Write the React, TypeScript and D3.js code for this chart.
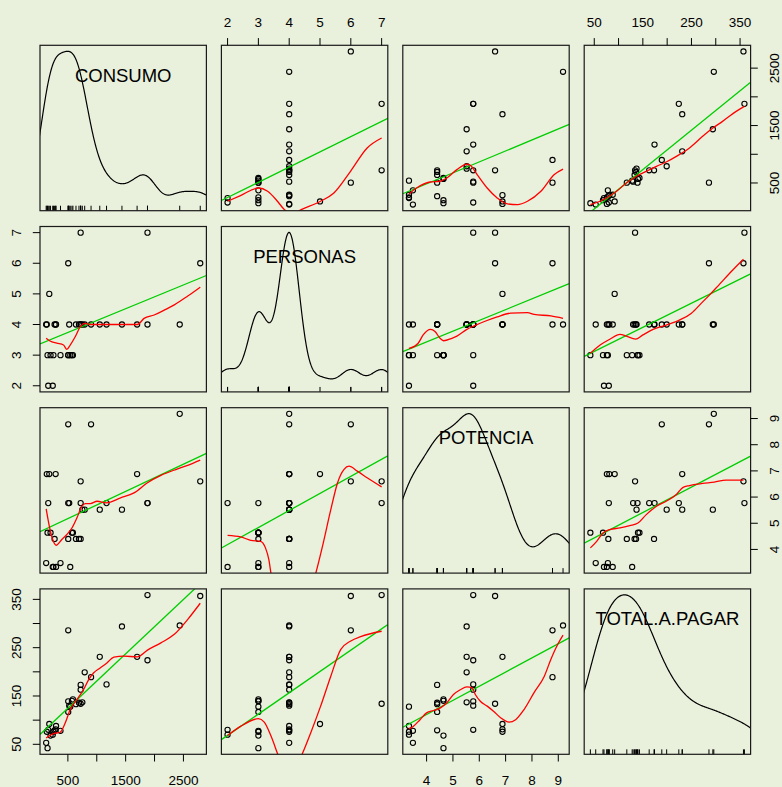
import React from "react";
import * as d3 from "d3";

// variable names shown on the diagonal
const varNames = ["CONSUMO", "PERSONAS", "POTENCIA", "TOTAL.A.PAGAR"];

// one entry per household
const consumo = [124, 135, 148, 160, 178, 200, 238, 250, 270, 288, 295, 372, 506, 541, 523, 506, 570, 587, 640, 692, 721, 721, 721, 750, 791, 901, 1052, 1169, 1436, 1698, 1878, 1878, 2436, 2791, 506];
const personas = [4, 4, 3, 2, 5, 3, 2, 3, 4, 4, 4, 3, 3, 3, 4, 3, 3, 3, 4, 4, 7, 4, 4, 4, 4, 4, 4, 4, 4, 4, 7, 4, 4, 6, 6];
const potencia = [3.48, 6.88, 4.64, 5.77, 6.88, 4.64, 3.33, 3.33, 4.4, 6.88, 3.33, 3.48, 4.4, 3.33, 5.77, 5.77, 4.64, 4.64, 4.4, 4.4, 6.6, 5.77, 4.4, 5.52, 5.52, 8.78, 5.52, 5.77, 5.52, 6.88, 5.77, 5.77, 9.18, 6.6, 8.78];
const totalAPagar = [53, 76, 42, 80, 92, 68, 70, 76, 79, 81, 88, 78, 117, 128, 130, 139, 140, 143, 133, 136, 134, 163, 173, 137, 199, 189, 231, 174, 294, 231, 359, 224, 296, 357, 286];

// axis ticks and the labels R kept
const consumoTicks = [500, 1000, 1500, 2000, 2500];
const consumoTickLabels = [500, 1500, 2500];
const personasTicks = [2, 3, 4, 5, 6, 7];
const potenciaTicks = [4, 5, 6, 7, 8, 9];
const totalTicks = [50, 100, 150, 200, 250, 300, 350];
const totalTickLabels = [50, 150, 250, 350];

// red smoother of each panel, [x, y]
const consumoByPersonasSmooth = [[2, 182], [2.42, 281], [3, 413], [3.3, 356], [3.62, 182], [3.84, 37], [4.1, -40], [4.39, 37], [5.02, 182], [5.45, 326], [5.99, 703], [6.53, 1109], [7, 1283]];
const consumoByPotenciaSmooth = [[3.33, 309], [3.62, 413], [4.13, 517], [4.51, 530], [4.77, 587], [5.15, 733], [5.53, 830], [5.66, 808], [5.92, 646], [6.3, 413], [6.68, 239], [7.07, 135], [7.45, 124], [7.83, 182], [8.34, 356], [8.85, 646], [9.18, 740]];
const consumoByTotalSmooth = [[42, 124], [62, 182], [75, 239], [96, 356], [116, 500], [137, 617], [157, 703], [178, 790], [198, 865], [219, 964], [246, 1109], [273, 1312], [294, 1457], [314, 1573], [342, 1747], [359, 1834]];
const personasByConsumoSmooth = [[124, 3.55], [191, 3.46], [308, 3.39], [424, 3.33], [482, 3.19], [540, 3.33], [627, 3.6], [715, 3.93], [790, 4.04], [889, 4.0], [1063, 4.0], [1354, 4.0], [1703, 4.0], [1819, 4.2], [1993, 4.31], [2168, 4.47], [2342, 4.64], [2575, 4.93], [2791, 5.22]];
const personasByPotenciaSmooth = [[3.33, 3.22], [3.68, 3.39], [3.87, 3.66], [4.15, 3.84], [4.32, 3.77], [4.51, 3.55], [4.64, 3.47], [4.96, 3.55], [5.15, 3.62], [5.53, 3.84], [5.79, 3.95], [6.17, 4.09], [6.68, 4.25], [7.19, 4.37], [7.83, 4.39], [8.08, 4.33], [8.72, 4.28], [9.18, 4.2]];
const personasByTotalSmooth = [[42, 3.06], [62, 3.33], [82, 3.52], [103, 3.68], [116, 3.62], [135, 3.52], [150, 3.66], [171, 3.84], [198, 3.98], [226, 4.15], [250, 4.37], [270, 4.69], [287, 4.96], [308, 5.32], [335, 5.78], [357, 6.13]];
const potenciaByConsumoSmooth = [[124, 5.55], [191, 4.76], [249, 4.31], [296, 4.16], [395, 4.38], [482, 4.57], [570, 4.82], [657, 5.21], [744, 5.65], [802, 5.75], [889, 5.75], [1006, 5.84], [1168, 5.78], [1412, 5.97], [1644, 6.16], [1878, 6.55], [2110, 6.83], [2401, 7.08], [2662, 7.29], [2791, 7.41]];
const potenciaByPersonasSmooth = [[2, 4.54], [2.42, 4.48], [2.75, 4.35], [3.07, 4.31], [3.23, 4.06], [3.34, 3.61], [3.42, 3.0], [3.7, 1.8], [4.1, 1.2], [4.5, 1.8], [4.86, 3.08], [5.08, 4.12], [5.35, 5.52], [5.57, 6.55], [5.78, 7.06], [5.94, 7.18], [6.21, 6.99], [6.53, 6.74], [7, 6.39]];
const potenciaByTotalSmooth = [[42, 4.06], [55, 4.31], [68, 4.63], [82, 4.76], [103, 4.82], [123, 4.91], [140, 5.01], [157, 5.33], [178, 5.65], [198, 5.84], [219, 6.1], [232, 6.36], [246, 6.44], [273, 6.52], [297, 6.57], [321, 6.65], [357, 6.65]];
const totalByConsumoSmooth = [[124, 63], [249, 72], [366, 75], [453, 94], [540, 122], [657, 143], [773, 163.5], [860, 184], [947, 198], [1063, 208.5], [1180, 219], [1296, 230.5], [1470, 232.6], [1703, 231], [1878, 245], [2110, 260], [2342, 277.6], [2575, 308.7], [2791, 342]];
const totalByPersonasSmooth = [[2, 68], [2.42, 87], [3, 103], [3.19, 96], [3.41, 67], [3.62, 31], [3.8, 0], [4.0, -20], [4.2, 0], [4.43, 31], [4.7, 74], [5.02, 129], [5.35, 191], [5.67, 246], [6, 264], [6.32, 273], [7, 284]];
const totalByPotenciaSmooth = [[3.33, 82], [3.49, 87], [3.75, 101], [4.0, 115], [4.26, 120], [4.51, 125], [4.77, 136], [5.02, 153], [5.28, 163], [5.53, 169], [5.73, 167], [5.85, 153], [6.04, 139], [6.3, 129], [6.55, 118], [6.81, 105], [7.13, 96], [7.38, 101], [7.7, 122], [8.08, 157], [8.47, 191], [8.72, 226], [8.98, 257], [9.18, 276]];

const BG = "#e9f0dc";
const FONT = "'Liberation Sans', Arial, sans-serif";

// gaussian kde with R's bw.nrd0, cut = 3
function density(v: number[]) {
  const n = v.length;
  const s = [...v].sort((a, b) => a - b);
  const sd = d3.deviation(v) || 1;
  const iqr = (d3.quantile(s, 0.75)! - d3.quantile(s, 0.25)!) / 1.34;
  const lo = Math.min(sd, iqr) || sd;
  const bw = 0.9 * lo * Math.pow(n, -0.2);
  const from = s[0] - 3 * bw;
  const to = s[n - 1] + 3 * bw;
  return d3.range(512).map((k) => {
    const x = from + ((to - from) * k) / 511;
    let sum = 0;
    for (const xi of v) {
      const z = (x - xi) / bw;
      sum += Math.exp(-0.5 * z * z);
    }
    return [x, sum / (n * bw * Math.sqrt(2 * Math.PI))];
  });
}

export default function App() {
  const W = 782, H = 787;
  const left = 40, top = 45.3, stepX = 181.4, stepY = 181.2, pw = 166.4, ph = 165.4;
  const vars = [consumo, personas, potencia, totalAPagar];
  const ticks = [consumoTicks, personasTicks, potenciaTicks, totalTicks];
  const labels = [consumoTickLabels, personasTicks, potenciaTicks, totalTickLabels];
  const smooths: Record<string, number[][]> = {
    "0-1": consumoByPersonasSmooth, "0-2": consumoByPotenciaSmooth, "0-3": consumoByTotalSmooth,
    "1-0": personasByConsumoSmooth, "1-2": personasByPotenciaSmooth, "1-3": personasByTotalSmooth,
    "2-0": potenciaByConsumoSmooth, "2-1": potenciaByPersonasSmooth, "2-3": potenciaByTotalSmooth,
    "3-0": totalByConsumoSmooth, "3-1": totalByPersonasSmooth, "3-2": totalByPotenciaSmooth,
  };
  const domains = vars.map((v) => {
    const [a, b] = d3.extent(v) as [number, number];
    const r = b - a;
    return [a - 0.04 * r, b + 0.04 * r];
  });

  const panels: React.ReactNode[] = [];
  for (let i = 0; i < 4; i++) {
    for (let j = 0; j < 4; j++) {
      const x0 = left + j * stepX;
      const y0 = top + i * stepY;
      const xs = d3.scaleLinear().domain(domains[j]).range([x0, x0 + pw]);
      const ys = d3.scaleLinear().domain(domains[i]).range([y0 + ph, y0]);
      const clipId = `clip-${i}-${j}`;
      const line = d3.line<number[]>().x((d) => xs(d[0])).y((d) => ys(d[1]));
      const content: React.ReactNode[] = [];

      if (i === j) {
        const v = vars[i];
        const dens = density(v);
        const [mn, mx] = d3.extent(v) as [number, number];
        const [dmin, dmax] = d3.extent(dens, (d) => d[1]) as [number, number];
        const scaled = dens.map((d) => [d[0], mn + (d[1] * (mx - mn)) / (dmax - dmin)]);
        content.push(<path key="dens" d={line(scaled) || ""} fill="none" stroke="#000" strokeWidth={1.2} clipPath={`url(#${clipId})`} />);
        v.forEach((val, k) => (
          content.push(<line key={`r${k}`} x1={xs(val)} x2={xs(val)} y1={y0 + ph} y2={y0 + ph - 0.03 * ph} stroke="#000" strokeWidth={1} />)
        ));
        content.push(
          <text key="title" x={x0 + pw / 2} y={y0 + 36.5} textAnchor="middle" fontSize={18.5} fontFamily={FONT} fill="#000">
            {varNames[i]}
          </text>
        );
      } else {
        const xv = vars[j];
        const yv = vars[i];
        const mx = d3.mean(xv)!;
        const my = d3.mean(yv)!;
        let sxy = 0, sxx = 0;
        xv.forEach((x, k) => {
          sxy += (x - mx) * (yv[k] - my);
          sxx += (x - mx) * (x - mx);
        });
        const slope = sxy / sxx;
        const icpt = my - slope * mx;
        const dx = domains[j];
        const reg = [[dx[0], icpt + slope * dx[0]], [dx[1], icpt + slope * dx[1]]];
        const smoothLine = d3.line<number[]>().x((d) => xs(d[0])).y((d) => ys(d[1])).curve(d3.curveMonotoneX);
        xv.forEach((x, k) => (
          content.push(<circle key={`p${k}`} cx={xs(x)} cy={ys(yv[k])} r={2.6} fill="none" stroke="#000" strokeWidth={1.1} />)
        ));
        content.push(
          <g key="lines" clipPath={`url(#${clipId})`}>
            <path d={line(reg) || ""} fill="none" stroke="#00cd00" strokeWidth={1.3} />
            <path d={smoothLine(smooths[`${i}-${j}`]) || ""} fill="none" stroke="#ff0000" strokeWidth={1.3} />
          </g>
        );
      }

      // axes on the outer margins, alternating like pairs()
      const axis: React.ReactNode[] = [];
      const txt = { fontSize: 13.5, fontFamily: FONT, fill: "#000" };
      if (i === 0 && j % 2 === 1) {
        ticks[j].forEach((t) => axis.push(<line key={`tt${t}`} x1={xs(t)} x2={xs(t)} y1={y0} y2={y0 - 7.2} stroke="#000" />));
        labels[j].forEach((t) => axis.push(<text key={`tl${t}`} x={xs(t)} y={y0 - 18.6} textAnchor="middle" {...txt}>{t}</text>));
      }
      if (i === 3 && j % 2 === 0) {
        ticks[j].forEach((t) => axis.push(<line key={`bt${t}`} x1={xs(t)} x2={xs(t)} y1={y0 + ph} y2={y0 + ph + 7.2} stroke="#000" />));
        labels[j].forEach((t) => axis.push(<text key={`bl${t}`} x={xs(t)} y={y0 + ph + 30.5} textAnchor="middle" {...txt}>{t}</text>));
      }
      if (j === 0 && i % 2 === 1) {
        ticks[i].forEach((t) => axis.push(<line key={`lt${t}`} x1={x0} x2={x0 - 7.2} y1={ys(t)} y2={ys(t)} stroke="#000" />));
        labels[i].forEach((t) => {
          const lx = x0 - 19.3, ly = ys(t);
          axis.push(<text key={`ll${t}`} x={lx} y={ly} transform={`rotate(-90 ${lx} ${ly})`} textAnchor="middle" {...txt}>{t}</text>);
        });
      }
      if (j === 3 && i % 2 === 0) {
        ticks[i].forEach((t) => axis.push(<line key={`rt${t}`} x1={x0 + pw} x2={x0 + pw + 7.2} y1={ys(t)} y2={ys(t)} stroke="#000" />));
        labels[i].forEach((t) => {
          const lx = x0 + pw + 28.6, ly = ys(t);
          axis.push(<text key={`rl${t}`} x={lx} y={ly} transform={`rotate(-90 ${lx} ${ly})`} textAnchor="middle" {...txt}>{t}</text>);
        });
      }

      panels.push(
        <g key={`panel-${i}-${j}`}>
          <defs>
            <clipPath id={clipId}>
              <rect x={x0} y={y0} width={pw} height={ph} />
            </clipPath>
          </defs>
          {content}
          <rect x={x0} y={y0} width={pw} height={ph} fill="none" stroke="#1a1a1a" strokeWidth={1.2} />
          {axis}
        </g>
      );
    }
  }

  return (
    <svg width={W} height={H} style={{ position: "absolute", left: 0, top: 0, display: "block" }}>
      <rect x={0} y={0} width={W} height={H} fill={BG} />
      {panels}
    </svg>
  );
}
